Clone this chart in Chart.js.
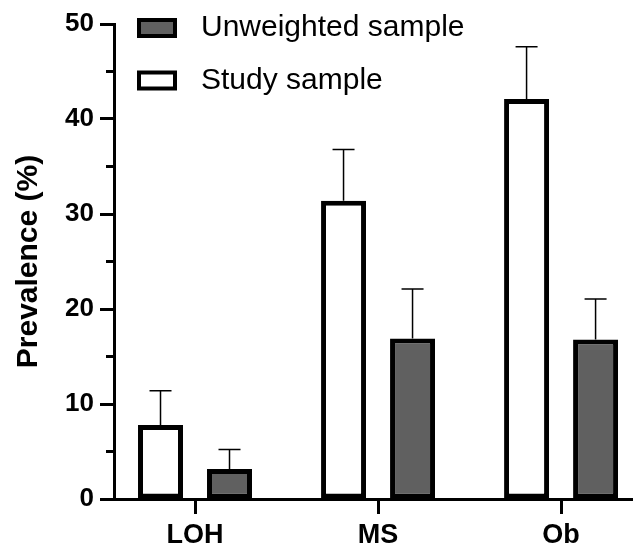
<!DOCTYPE html>
<html>
<head>
<meta charset="utf-8">
<title>Prevalence</title>
<script src="https://cdn.jsdelivr.net/npm/chart.js@4.4.1/dist/chart.umd.min.js"></script>
<style>
  html, body { margin: 0; padding: 0; background: #fff; }
  #wrap { width: 633px; height: 548px; }
</style>
</head>
<body>
<div id="wrap"><canvas id="prevChart" width="633" height="548"></canvas></div>
<script>
/* ===============================
   DATA
================================ */
const categories = ['LOH', 'MS', 'Ob'];
const studyValues = [7.8, 31.4, 42.1];
const studyErrors = [3.6, 5.4, 5.5];
const unweightedValues = [3.15, 16.9, 16.8];
const unweightedErrors = [2.05, 5.2, 4.25];
const yTicks = [0, 10, 20, 30, 40, 50];
const yMinorTicks = [5, 15, 25, 35, 45];

const FONT = 'Arial, "Liberation Sans", Helvetica, sans-serif';
const GRAY = '#606060';

function toPoints(values) {
  return values.map((v, i) => ({ x: i, y: v }));
}

/* ===============================
   PLUGINS
================================ */
// upper-only error bars with a cap
const errorBarPlugin = {
  id: 'errorBars',
  afterDatasetsDraw(chart) {
    const ctx = chart.ctx;
    const yScale = chart.scales.y;
    chart.data.datasets.forEach((ds, di) => {
      const meta = chart.getDatasetMeta(di);
      meta.data.forEach((bar, i) => {
        const top = yScale.getPixelForValue(ds.data[i].y + ds.errorBars[i]);
        ctx.save();
        ctx.strokeStyle = '#000';
        ctx.lineWidth = 1.5;
        ctx.beginPath();
        ctx.moveTo(bar.x, bar.y);
        ctx.lineTo(bar.x, top);
        ctx.moveTo(bar.x - 11, top);
        ctx.lineTo(bar.x + 11, top);
        ctx.stroke();
        ctx.restore();
      });
    });
  },
};

// short minor ticks on the y axis
const minorTickPlugin = {
  id: 'minorTicks',
  afterDraw(chart) {
    const { ctx, chartArea } = chart;
    const yScale = chart.scales.y;
    ctx.save();
    ctx.strokeStyle = '#000';
    ctx.lineWidth = 3;
    ctx.beginPath();
    yMinorTicks.forEach((v) => {
      const y = yScale.getPixelForValue(v);
      ctx.moveTo(chartArea.left - 8, y);
      ctx.lineTo(chartArea.left, y);
    });
    ctx.stroke();
    ctx.restore();
  },
};

// stacked legend inside the plot, gray entry first
const legendPlugin = {
  id: 'sampleLegend',
  afterDraw(chart) {
    const { ctx, chartArea } = chart;
    const rows = chart.data.datasets.slice().reverse();
    rows.forEach((ds, i) => {
      const cy = chartArea.top + 4 + i * 52.5;
      const bx = chartArea.left + 25;
      ctx.save();
      ctx.fillStyle = ds.backgroundColor;
      ctx.strokeStyle = '#000';
      ctx.lineWidth = 4;
      ctx.fillRect(bx, cy - 8, 36, 16);
      ctx.strokeRect(bx, cy - 8, 36, 16);
      ctx.fillStyle = '#000';
      ctx.font = `30px ${FONT}`;
      ctx.textBaseline = 'middle';
      ctx.textAlign = 'left';
      ctx.fillText(ds.label, chartArea.left + 87, cy);
      ctx.restore();
    });
  },
};

/* ===============================
   CHART
================================ */
const axisFont = (size) => ({ family: FONT, size: size, weight: 'bold' });

new Chart(document.getElementById('prevChart'), {
  type: 'bar',
  data: {
    datasets: [
      {
        label: 'Study sample',
        data: toPoints(studyValues),
        errorBars: studyErrors,
        backgroundColor: '#ffffff',
        borderColor: '#000000',
        borderWidth: 5,
        borderSkipped: false,
      },
      {
        label: 'Unweighted sample',
        data: toPoints(unweightedValues),
        errorBars: unweightedErrors,
        backgroundColor: GRAY,
        borderColor: '#000000',
        borderWidth: 5,
        borderSkipped: false,
      },
    ],
  },
  options: {
    responsive: false,
    animation: false,
    categoryPercentage: 0.754,
    barPercentage: 0.652,
    layout: { padding: { left: 11, top: 24, right: 0, bottom: 0 } },
    plugins: {
      legend: { display: false },
      tooltip: { enabled: false },
    },
    scales: {
      x: {
        type: 'linear',
        min: -0.4426,
        max: 2.393,
        offset: false,
        afterBuildTicks: (s) => {
          s.ticks = categories.map((c, i) => ({ value: i }));
        },
        afterFit: (s) => {
          s.height = 49;
        },
        border: { color: '#000', width: 3 },
        grid: { drawOnChartArea: false, offset: false, tickLength: 15, tickWidth: 3, tickColor: '#000' },
        ticks: {
          color: '#000',
          font: axisFont(27),
          padding: 5,
          maxRotation: 0,
          autoSkip: false,
          callback: (v) => categories[v],
        },
      },
      y: {
        min: 0,
        max: 50,
        afterBuildTicks: (s) => {
          s.ticks = yTicks.map((v) => ({ value: v }));
        },
        afterFit: (s) => {
          s.width = 103;
        },
        border: { color: '#000', width: 3 },
        grid: { drawOnChartArea: false, tickLength: 14, tickWidth: 3, tickColor: '#000' },
        ticks: { color: '#000', font: axisFont(26), padding: 6 },
        title: {
          display: true,
          text: 'Prevalence (%)',
          color: '#000',
          font: axisFont(30),
          padding: 0,
        },
      },
    },
  },
  plugins: [errorBarPlugin, minorTickPlugin, legendPlugin],
});
</script>
</body>
</html>
